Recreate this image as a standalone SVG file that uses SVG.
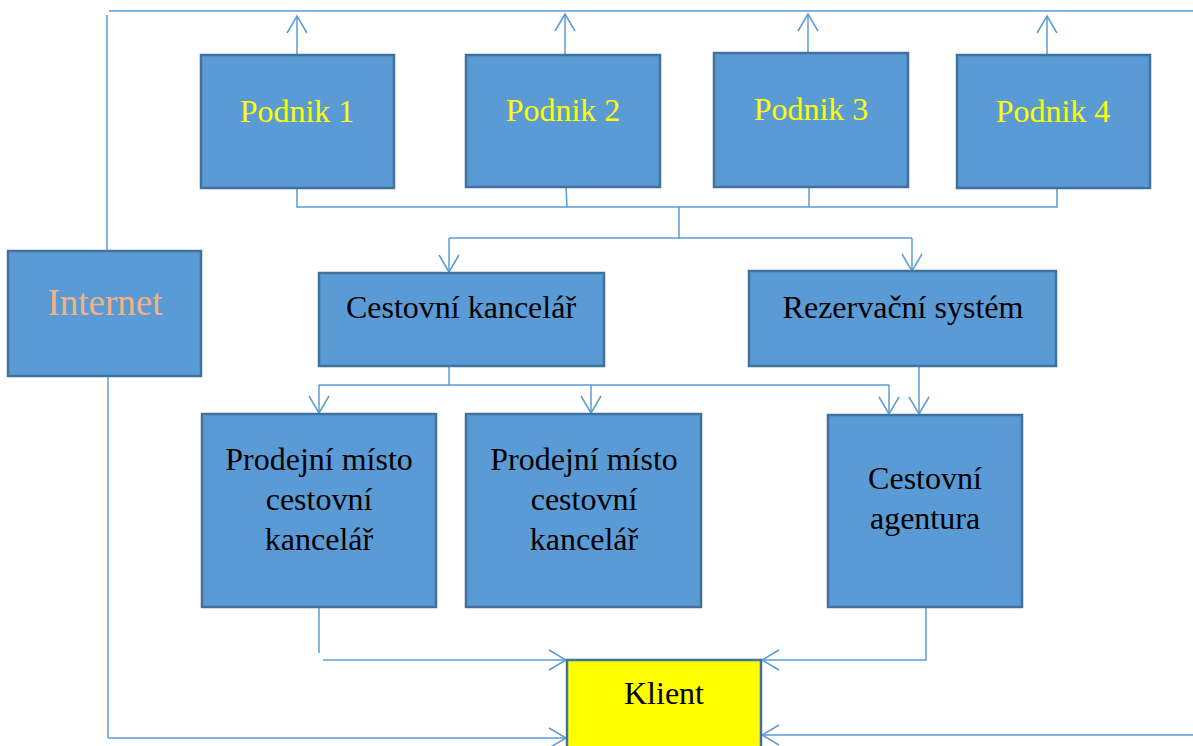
<svg xmlns="http://www.w3.org/2000/svg" width="1193" height="746" viewBox="0 0 1193 746">
  <style>
    .box { fill: #5B9BD5; stroke: #41719C; stroke-width: 2.5; }
    .client { fill: #FFFF00; stroke: #41719C; stroke-width: 2.5; }
    .lbl { font-family: "Liberation Serif", "Times New Roman", serif; font-size: 32px; text-anchor: middle; fill: #000000; }
    .firm { fill: #FFFF00; }
    .net { fill: #F4B183; font-size: 37px; }
    .wire { fill: none; stroke: #5B9BD5; stroke-width: 1.5; }
    .arr { marker-end: url(#open); }
  </style>
  <defs>
    <marker id="open" markerUnits="userSpaceOnUse" markerWidth="24" markerHeight="24" viewBox="-20 -12 22 24" refX="0" refY="0" orient="auto">
      <path d="M-17,-10 L0,0 L-17,10" fill="none" stroke="#5B9BD5" stroke-width="1.5"/>
    </marker>
  </defs>

  <rect width="1193" height="746" fill="#FFFFFF"/>

  <g id="connectors">
    <!-- outer frame lines -->
    <path class="wire" d="M109,11 H1193"/>
    <path class="wire" d="M107,15 V251"/>
    <!-- companies up to the network line -->
    <path class="wire arr" d="M297,55 V16"/>
    <path class="wire arr" d="M565,55 V14"/>
    <path class="wire arr" d="M808,53 V14"/>
    <path class="wire arr" d="M1047,55 V16"/>
    <!-- companies down to the distribution bus -->
    <path class="wire" d="M297,188 V207 H1057 V188"/>
    <path class="wire" d="M566,187 L567,207"/>
    <path class="wire" d="M809,187 V207"/>
    <path class="wire" d="M679,207 V238"/>
    <path class="wire" d="M449,238 H912"/>
    <path class="wire arr" d="M449,238 V272"/>
    <path class="wire arr" d="M912,238 V271"/>
    <!-- travel office to sales points -->
    <path class="wire" d="M449,366 V385"/>
    <path class="wire" d="M319,385 H889"/>
    <path class="wire arr" d="M319,385 V413"/>
    <path class="wire arr" d="M591,385 V413"/>
    <path class="wire arr" d="M889,385 V414"/>
    <path class="wire arr" d="M919,366 V414"/>
    <!-- to the client -->
    <path class="wire" d="M108,376 V738"/>
    <path class="wire arr" d="M108,738 H566"/>
    <path class="wire" d="M319,607 V653"/>
    <path class="wire arr" d="M323,660 H566"/>
    <path class="wire arr" d="M926,607 V660 H762"/>
    <path class="wire arr" d="M1193,735 H762"/>
  </g>

  <g id="podnik1">
    <rect class="box" x="201" y="55" width="193" height="133"/>
    <text class="lbl firm" x="297" y="122">Podnik 1</text>
  </g>
  <g id="podnik2">
    <rect class="box" x="466" y="55" width="194" height="132"/>
    <text class="lbl firm" x="563" y="121">Podnik 2</text>
  </g>
  <g id="podnik3">
    <rect class="box" x="714" y="53" width="194" height="134"/>
    <text class="lbl firm" x="811" y="120">Podnik 3</text>
  </g>
  <g id="podnik4">
    <rect class="box" x="957" y="55" width="193" height="133"/>
    <text class="lbl firm" x="1053" y="122">Podnik 4</text>
  </g>

  <g id="internet">
    <rect class="box" x="8" y="251" width="193" height="125"/>
    <text class="lbl net" x="105" y="315">Internet</text>
  </g>

  <g id="cestovni-kancelar">
    <rect class="box" x="319" y="273" width="285" height="93"/>
    <text class="lbl" x="461" y="318">Cestovní kancelář</text>
  </g>
  <g id="rezervacni-system">
    <rect class="box" x="749" y="271" width="307" height="95"/>
    <text class="lbl" x="903" y="318">Rezervační systém</text>
  </g>

  <g id="prodejni-misto-1">
    <rect class="box" x="202" y="414" width="234" height="193"/>
    <text class="lbl" x="319" y="470">Prodejní místo</text>
    <text class="lbl" x="319" y="510">cestovní</text>
    <text class="lbl" x="319" y="550">kancelář</text>
  </g>
  <g id="prodejni-misto-2">
    <rect class="box" x="466" y="414" width="235" height="193"/>
    <text class="lbl" x="584" y="470">Prodejní místo</text>
    <text class="lbl" x="584" y="510">cestovní</text>
    <text class="lbl" x="584" y="550">kancelář</text>
  </g>
  <g id="cestovni-agentura">
    <rect class="box" x="828" y="415" width="194" height="192"/>
    <text class="lbl" x="925" y="489">Cestovní</text>
    <text class="lbl" x="925" y="529">agentura</text>
  </g>

  <g id="klient">
    <rect class="client" x="567" y="660" width="194" height="95"/>
    <text class="lbl" x="664" y="704">Klient</text>
  </g>
</svg>
